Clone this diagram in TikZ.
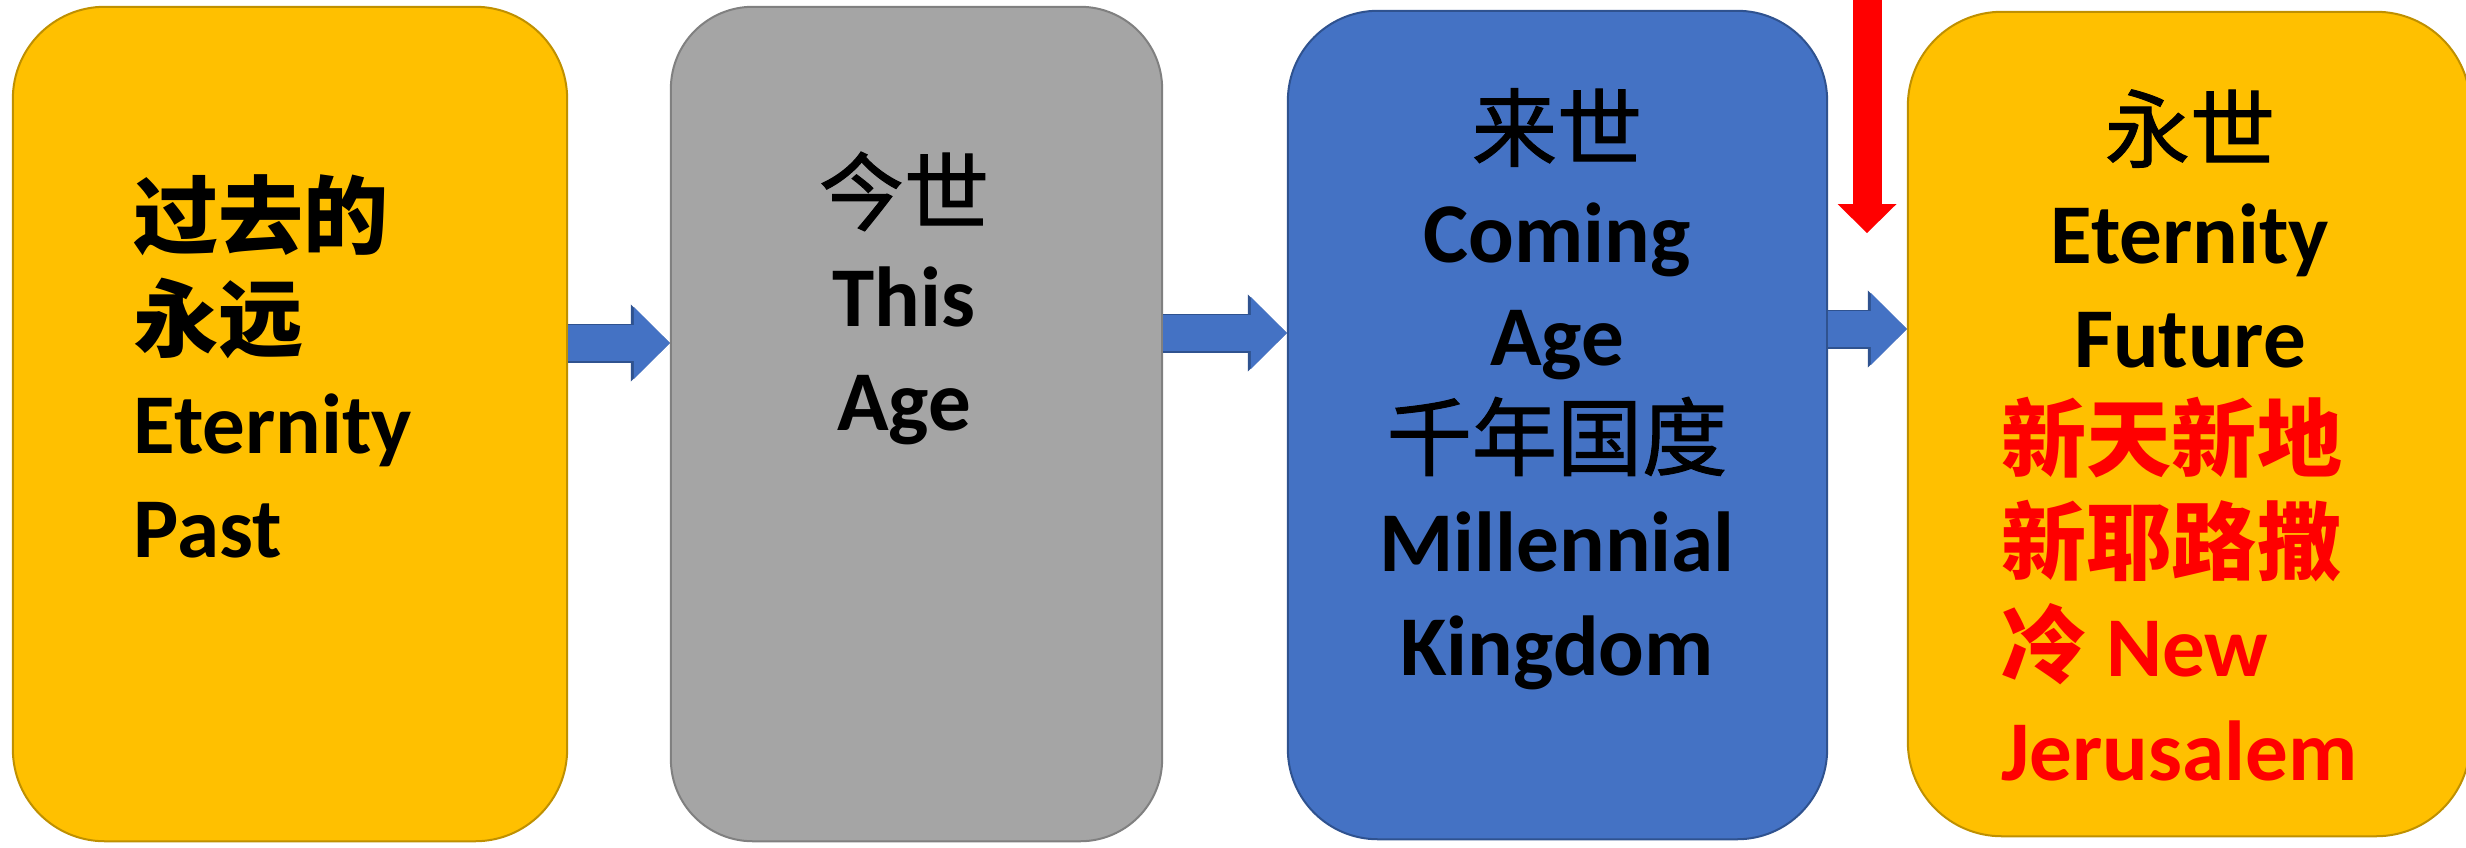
\documentclass[tikz,border=0pt]{standalone}
\usepackage{fontspec}
\setmainfont{Carlito}
\newfontfamily\cjk{Noto Sans CJK SC}
\newfontfamily\cjkmid{Noto Sans CJK SC}[FakeBold=1.2]
\usetikzlibrary{arrows.meta}
\definecolor{ageyellow}{HTML}{FFC000}
\definecolor{yellowedge}{HTML}{BF9000}
\definecolor{agegray}{HTML}{A5A5A5}
\definecolor{grayedge}{HTML}{808080}
\definecolor{ageblue}{HTML}{4472C4}
\definecolor{blueedge}{HTML}{2F528F}
\tikzset{
  agebox/.style={rectangle, rounded corners=0.92cm, line width=0.02cm, inner sep=0pt},
  agetext/.style={font=\fontsize{24.2pt}{29.3pt}\selectfont\bfseries, inner sep=0pt},
  flow/.style={line width=0.36cm, draw=ageblue,
    -{Triangle[width=0.72cm, length=0.36cm, line width=0pt]},
    preaction={draw=blueedge, line width=0.39cm,
      -{Triangle[width=0.77cm, length=0.39cm, line width=0pt]}}},
  descent/.style={line width=0.29cm, draw=red,
    -{Triangle[width=0.59cm, length=0.29cm, line width=0pt]}}
}
\begin{document}
\begin{tikzpicture}[x=0.01cm, y=-0.01cm]
  \useasboundingbox (0,0) rectangle (2466,847);
  \node[agebox, fill=ageyellow, draw=yellowedge, minimum width=5.54cm, minimum height=8.34cm] (past) at (290,424) {};
  \node[agebox, fill=agegray, draw=grayedge, rounded corners=0.82cm, minimum width=4.91cm, minimum height=8.34cm] (this) at (916.5,424) {};
  \node[agebox, fill=ageblue, draw=blueedge, rounded corners=0.9cm, minimum width=5.39cm, minimum height=8.28cm] (coming) at (1557.5,425) {};
  \node[agebox, fill=ageyellow, draw=yellowedge, rounded corners=0.94cm, minimum width=5.62cm, minimum height=8.24cm] (future) at (2189,424) {};
  \node[agetext, align=left, anchor=base west] (pasttext) at (133,557)
    {{\cjk 过去的}\\{\cjk 永远}\\Eternity\\Past};
  \node[agetext, align=center, anchor=base] (thistext) at (904,430)
    {{\cjkmid\mdseries 今世}\\This\\Age};
  \node[agetext, align=center, anchor=base] (comingtext) at (1557,675)
    {{\cjkmid\mdseries 来世}\\Coming\\Age\\{\cjkmid\mdseries 千年国度}\\Millennial\\Kingdom};
  \node[agetext, align=center, anchor=base] (futuretext) at (2190,367)
    {{\cjkmid\mdseries 永世}\\Eternity\\Future};
  \node[agetext, align=left, anchor=base west, text=red] (newjerusalem) at (2001,780)
    {{\cjk 新天新地}\\{\cjk 新耶路撒}\\{\cjk 冷} New\\Jerusalem};
  \draw[flow] (past.east |- 0,343) -- (this.west |- 0,343);
  \draw[flow] (this.east |- 0,333) -- (coming.west |- 0,333);
  \draw[flow] (coming.east |- 0,329) -- (future.west |- 0,329);
  \coordinate (heaven) at (1867,-10);
  \coordinate (landing) at (1867,233);
  \draw[descent] (heaven) -- (landing);
\end{tikzpicture}
\end{document}
